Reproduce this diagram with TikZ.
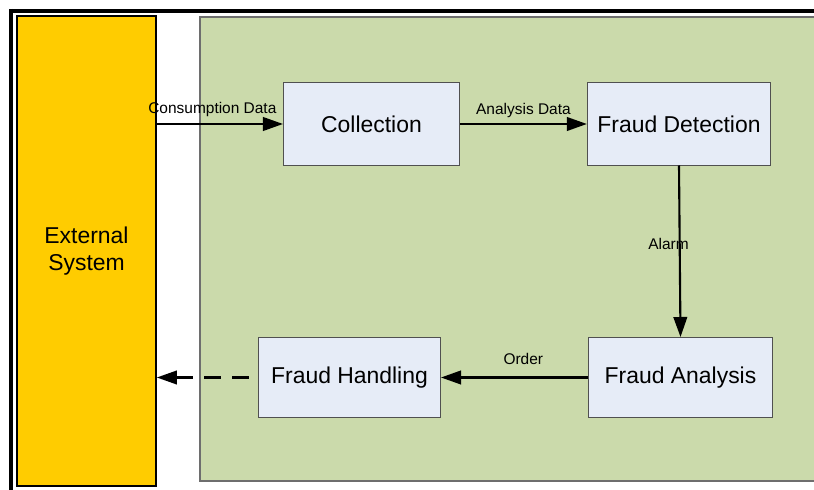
\documentclass[tikz,border=0pt]{standalone}
\usepackage{fontspec}
\setmainfont{Liberation Sans}
\usepackage{xcolor}
\usepackage{tikz}
\usetikzlibrary{positioning,arrows.meta,calc}
\definecolor{extyellow}{RGB}{255,204,0}
\definecolor{zonegreen}{RGB}{203,218,171}
\definecolor{boxblue}{RGB}{230,236,247}
\definecolor{boxline}{RGB}{80,80,80}
\definecolor{zoneline}{RGB}{110,110,110}
\tikzset{
    stage/.style={draw=boxline, fill=boxblue, line width=0.7pt, align=center, font=\fontsize{16.3}{19}\selectfont, minimum width=4.55cm, minimum height=2.05cm},
    extbox/.style={draw=black, fill=extyellow, line width=1.1pt, align=center, font=\fontsize{16.3}{19}\selectfont},
    zone/.style={draw=zoneline, fill=zonegreen, line width=0.9pt},
    flow/.style={-{Triangle[length=5mm, width=3.4mm]}, line width=1.5pt, draw=black},
    flowlabel/.style={font=\fontsize{11}{13}\selectfont, inner sep=1.5pt},
    frame/.style={draw=black, line width=2.8pt}
}

\begin{document}
\begin{tikzpicture}[x=0.025cm, y=-0.025cm]
\useasboundingbox (0,0) rectangle (814,490);
% outer frame, only top and left edges visible
\draw[frame] (9,11) -- (820,11);
\draw[frame] (11,9) -- (11,495);
% the monitored system area and the external side
\path[zone] (200,17) rectangle (830,481);
\node[extbox, minimum width=3.48cm, minimum height=11.75cm] (ext) at (86.5,251) {External\\System};
% processing stages
\node[stage, minimum width=4.4cm] (coll) at (371.5,124) {Collection};
\node[stage, minimum width=4.58cm] (det) at (679,124) {Fraud Detection};
\node[stage, minimum width=4.6cm, minimum height=2.0cm] (ana) at (680.5,377.5) {Fraud Analysis};
\node[stage, minimum width=4.55cm, minimum height=2.0cm] (hand) at (349.5,377.5) {Fraud Handling};
% data flow
\draw[flow] (ext.east |- coll.west) -- (coll.west)
    node[flowlabel, above, pos=0.44, yshift=3] {Consumption Data};
\draw[flow] (coll.east) -- (det.west)
    node[flowlabel, above, midway, yshift=2] {Analysis Data};
\draw[flow] (det.south) -- (ana.north)
    node[flowlabel, pos=0.46, xshift=-8] {Alarm};
\draw[flow] (ana.west) -- (hand.east)
    node[flowlabel, above, pos=0.44, yshift=7] {Order};
\draw[flow, dash pattern=on 12pt off 8pt, dash phase=13.5pt] (hand.west) -- (ext.east |- hand.west);
\end{tikzpicture}
\end{document}
